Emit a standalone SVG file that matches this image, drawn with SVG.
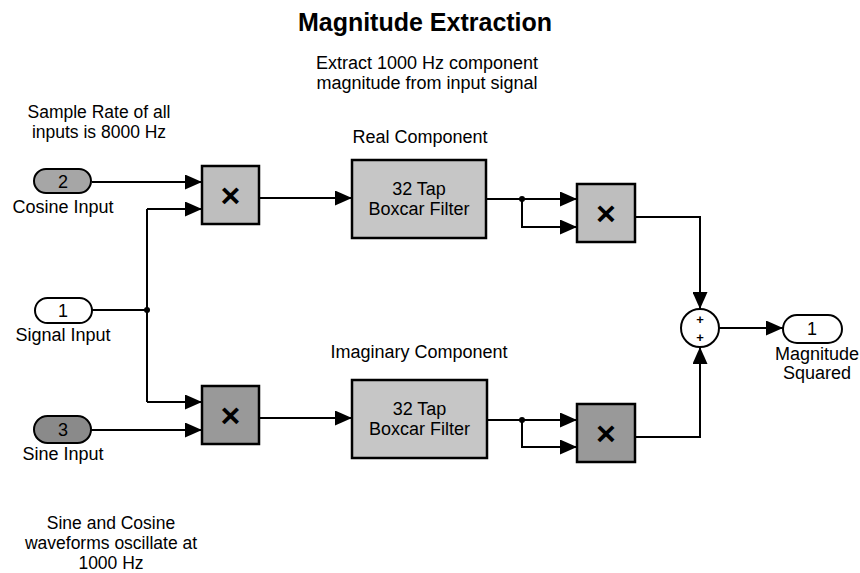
<svg xmlns="http://www.w3.org/2000/svg" width="860" height="573" viewBox="0 0 860 573">
<style>
  text { font-family: "Liberation Sans", Arial, Helvetica, sans-serif; fill: #000; }
  .lbl { font-size: 18px; text-anchor: middle; }
  .note { font-size: 17.5px; text-anchor: middle; }
  .title { font-size: 25px; font-weight: bold; text-anchor: middle; }
  .blk { stroke: #000; stroke-width: 2.5; }
  .light { fill: #bebebe; }
  .dark { fill: #999999; }
  .filt { fill: #c6c6c6; }
  .mul { font-size: 34px; font-weight: bold; text-anchor: middle; }
  .wire { fill: none; stroke: #000; stroke-width: 2; }
  .port { fill: #fff; stroke: #000; stroke-width: 2; }
</style>
<defs>
  <marker id="ah" markerUnits="userSpaceOnUse" markerWidth="17" markerHeight="15" refX="17" refY="7.5" orient="auto">
    <path d="M0,0 L17,7.5 L0,15 Z" fill="#000"/>
  </marker>
</defs>
<rect width="860" height="573" fill="#fff"/>

<text class="title" x="425" y="31">Magnitude Extraction</text>
<text class="lbl" x="427" y="69">Extract 1000 Hz component</text>
<text class="lbl" x="427" y="89">magnitude from input signal</text>
<text class="note" x="99" y="118">Sample Rate of all</text>
<text class="note" x="99" y="138">inputs is 8000 Hz</text>
<text class="note" x="111" y="529">Sine and Cosine</text>
<text class="note" x="111" y="549">waveforms oscillate at</text>
<text class="note" x="111" y="569">1000 Hz</text>
<text class="lbl" x="420" y="143">Real Component</text>
<text class="lbl" x="419" y="358">Imaginary Component</text>

<g id="connectors">
  <path class="wire" d="M92,182 H202" marker-end="url(#ah)"/>
  <path class="wire" d="M92,310 H147"/>
  <path class="wire" d="M147,209 V402"/>
  <path class="wire" d="M147,209 H202" marker-end="url(#ah)"/>
  <path class="wire" d="M147,402 H202" marker-end="url(#ah)"/>
  <path class="wire" d="M91,430 H202" marker-end="url(#ah)"/>
  <path class="wire" d="M259,198 H352" marker-end="url(#ah)"/>
  <path class="wire" d="M259,418 H352" marker-end="url(#ah)"/>
  <path class="wire" d="M486,199 H577" marker-end="url(#ah)"/>
  <path class="wire" d="M522,199 V227 H577" marker-end="url(#ah)"/>
  <path class="wire" d="M487,420 H577" marker-end="url(#ah)"/>
  <path class="wire" d="M522,420 V447 H577" marker-end="url(#ah)"/>
  <path class="wire" d="M635,217 H700 V309" marker-end="url(#ah)"/>
  <path class="wire" d="M635,437 H700 V347" marker-end="url(#ah)"/>
  <path class="wire" d="M719,328 H783" marker-end="url(#ah)"/>
  <circle cx="147" cy="310" r="3" fill="#000"/>
  <circle cx="522" cy="199" r="3" fill="#000"/>
  <circle cx="522" cy="420" r="3" fill="#000"/>
</g>

<g id="cosine-input">
  <rect x="34" y="169" width="57" height="24" rx="12" fill="#a6a6a6" stroke="#000" stroke-width="2"/>
  <text class="lbl" x="63" y="188">2</text>
  <text class="lbl" x="63" y="213">Cosine Input</text>
</g>
<g id="signal-input">
  <rect x="35" y="298" width="57" height="25" rx="12.5" class="port"/>
  <text class="lbl" x="63" y="317">1</text>
  <text class="lbl" x="63" y="341">Signal Input</text>
</g>
<g id="sine-input">
  <rect x="34" y="416" width="57" height="27" rx="13.5" fill="#8a8a8a" stroke="#000" stroke-width="2"/>
  <text class="lbl" x="63" y="436">3</text>
  <text class="lbl" x="63" y="460">Sine Input</text>
</g>

<g id="product-cos">
  <rect x="202" y="166" width="57" height="58" class="blk light"/>
  <text class="mul" x="230.5" y="207">×</text>
</g>
<g id="product-sin">
  <rect x="202" y="386" width="57" height="58" class="blk dark"/>
  <text class="mul" x="230.5" y="427">×</text>
</g>

<g id="filter-real">
  <rect x="352" y="160" width="134" height="78" class="blk filt"/>
  <text class="lbl" x="419" y="195">32 Tap</text>
  <text class="lbl" x="419" y="215">Boxcar Filter</text>
</g>
<g id="filter-imag">
  <rect x="352" y="380" width="135" height="78" class="blk filt"/>
  <text class="lbl" x="419.5" y="415">32 Tap</text>
  <text class="lbl" x="419.5" y="435">Boxcar Filter</text>
</g>

<g id="square-real">
  <rect x="577" y="184" width="58" height="58" class="blk light"/>
  <text class="mul" x="606" y="225">×</text>
</g>
<g id="square-imag">
  <rect x="577" y="404" width="58" height="58" class="blk dark"/>
  <text class="mul" x="606" y="445">×</text>
</g>

<g id="sum">
  <circle cx="700" cy="328" r="19" fill="#fff" stroke="#000" stroke-width="2"/>
  <text x="700" y="324" font-size="13" font-weight="bold" text-anchor="middle">+</text>
  <text x="700" y="342" font-size="13" font-weight="bold" text-anchor="middle">+</text>
</g>

<g id="magnitude-squared">
  <rect x="783" y="315" width="59" height="28" rx="14" class="port"/>
  <text class="lbl" x="812" y="335">1</text>
  <text class="lbl" x="817" y="360">Magnitude</text>
  <text class="lbl" x="817" y="379">Squared</text>
</g>
</svg>
